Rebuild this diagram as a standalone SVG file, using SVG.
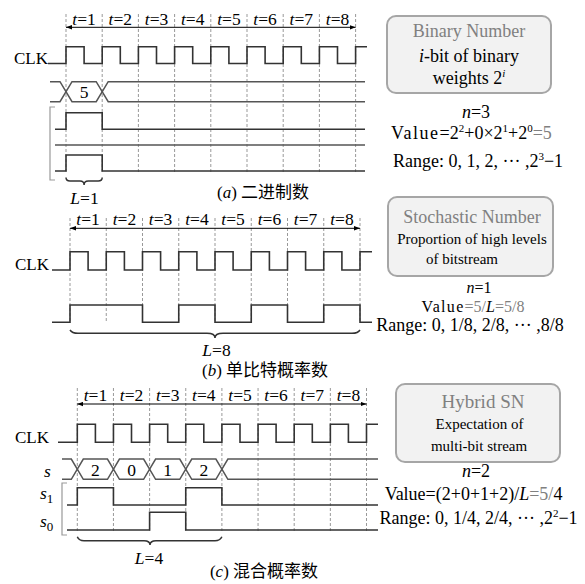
<svg xmlns="http://www.w3.org/2000/svg" width="585" height="584" viewBox="0 0 585 584">
<defs>
<style>
text{font-family:"Liberation Serif","Noto Sans CJK SC",serif;fill:#000}
.t{font-size:17.5px}
.clk{font-size:17px}
.wave{fill:none;stroke:#333;stroke-width:1.6}
.bus{fill:none;stroke:#555;stroke-width:1.5}
.dash{stroke:#999;stroke-width:1;stroke-dasharray:3 2}
.arr{stroke:#000;stroke-width:1}
.brace{fill:none;stroke:#333;stroke-width:1.5}
.brk{fill:none;stroke:#999;stroke-width:1.2}
.box{fill:#f2f2f2;stroke:#a6a6a6;stroke-width:2}
.title{font-size:18px;fill:#808080}
.bt{font-size:18px}
.bs{font-size:15px}
.info{font-size:18px}
.infob{font-size:16px}
.cap{font-size:17px}
.gray{fill:#808080}
.i{font-style:italic}
</style>
<marker id="ah" viewBox="0 0 8 6" refX="8" refY="3" markerWidth="6" markerHeight="5" orient="auto-start-reverse" markerUnits="userSpaceOnUse">
<path d="M0,0 L8,3 L0,6 z" fill="#000"/>
</marker>
</defs>
<rect width="585" height="584" fill="#fff"/>

<!-- ===== (a) Binary ===== -->
<g id="a-grid">
<g class="dash">
<line x1="66" y1="14" x2="66" y2="173"/><line x1="102.2" y1="14" x2="102.2" y2="173"/><line x1="138.4" y1="14" x2="138.4" y2="173"/><line x1="174.6" y1="14" x2="174.6" y2="173"/><line x1="210.8" y1="14" x2="210.8" y2="173"/><line x1="247" y1="14" x2="247" y2="173"/><line x1="283.2" y1="14" x2="283.2" y2="173"/><line x1="319.4" y1="14" x2="319.4" y2="173"/><line x1="355.6" y1="14" x2="355.6" y2="173"/>
</g>
<line class="arr" x1="66" y1="27.3" x2="355.6" y2="27.3" marker-start="url(#ah)" marker-end="url(#ah)"/>
<g class="t" text-anchor="middle">
<text x="84.1" y="25"><tspan class="i">t</tspan>=1</text><text x="120.3" y="25"><tspan class="i">t</tspan>=2</text><text x="156.5" y="25"><tspan class="i">t</tspan>=3</text><text x="192.7" y="25"><tspan class="i">t</tspan>=4</text><text x="228.9" y="25"><tspan class="i">t</tspan>=5</text><text x="265.1" y="25"><tspan class="i">t</tspan>=6</text><text x="301.3" y="25"><tspan class="i">t</tspan>=7</text><text x="337.5" y="25"><tspan class="i">t</tspan>=8</text>
</g>
</g>
<g id="a-clk">
<text class="clk" x="14" y="64">CLK</text>
<path class="wave" d="M48,63.5 H66 V46.7 H84.1 V63.5 H102.2 V46.7 H120.3 V63.5 H138.4 V46.7 H156.5 V63.5 H174.6 V46.7 H192.7 V63.5 H210.8 V46.7 H228.9 V63.5 H247 V46.7 H265.1 V63.5 H283.2 V46.7 H301.3 V63.5 H319.4 V46.7 H337.5 V63.5 H355.6 V46.7 H367"/>
</g>
<g id="a-bus">
<path class="bus" d="M50,81.7 H60 L72,101.7 H96.2 L108.2,81.7 H365"/>
<path class="bus" d="M50,101.7 H60 L72,81.7 H96.2 L108.2,101.7 H365"/>
<text class="t" x="84.1" y="98" text-anchor="middle">5</text>
</g>
<g id="a-bits">
<path class="brk" d="M55,107 H50 V180 H55"/>
<path class="wave" d="M55,129.3 H66 V112.7 H102.2 V129.3 H365"/>
<path class="bus" d="M55,145 H365"/>
<path class="wave" d="M55,171 H66 V155 H102.2 V171 H365"/>
<path class="brace" d="M66,177.5 Q66,181 70,181 H80 Q84.1,181 84.1,185 Q84.1,181 88.2,181 H98.2 Q102.2,181 102.2,177.5"/>
<text class="t" x="84.5" y="204" text-anchor="middle"><tspan class="i">L</tspan>=1</text>
<text class="cap" x="263" y="198" text-anchor="middle">(<tspan class="i">a</tspan>) 二进制数</text>
</g>
<g id="a-info">
<rect class="box" x="387" y="16" width="164" height="77" rx="9"/>
<text class="title" x="469" y="37" text-anchor="middle">Binary Number</text>
<text class="bt" x="469" y="62" text-anchor="middle"><tspan class="i">i</tspan>-bit of binary</text>
<text class="bt" x="469" y="84" text-anchor="middle">weights 2<tspan class="i" font-size="11" dy="-7">i</tspan></text>
<text class="info" x="476" y="118" text-anchor="middle"><tspan class="i">n</tspan>=3</text>
<text class="info" x="471.5" y="139" text-anchor="middle"><tspan letter-spacing="1.5">Value</tspan>=2<tspan font-size="11" dy="-7">2</tspan><tspan dy="7">+0×2</tspan><tspan font-size="11" dy="-7">1</tspan><tspan dy="7">+2</tspan><tspan font-size="11" dy="-7">0</tspan><tspan dy="7" class="gray">=5</tspan></text>
<text class="info" x="478" y="167" text-anchor="middle">Range: 0, 1, 2, ··· ,2<tspan font-size="11" dy="-7">3</tspan><tspan dy="7">−1</tspan></text>
</g>

<!-- ===== (b) Stochastic ===== -->
<g id="b-grid">
<g class="dash">
<line x1="70" y1="218" x2="70" y2="323"/><line x1="106.25" y1="218" x2="106.25" y2="323"/><line x1="142.5" y1="218" x2="142.5" y2="323"/><line x1="178.75" y1="218" x2="178.75" y2="323"/><line x1="215" y1="218" x2="215" y2="323"/><line x1="251.25" y1="218" x2="251.25" y2="323"/><line x1="287.5" y1="218" x2="287.5" y2="323"/><line x1="323.75" y1="218" x2="323.75" y2="323"/><line x1="360" y1="218" x2="360" y2="323"/>
</g>
<line class="arr" x1="70" y1="228.3" x2="360" y2="228.3" marker-start="url(#ah)" marker-end="url(#ah)"/>
<g class="t" text-anchor="middle">
<text x="88.1" y="225"><tspan class="i">t</tspan>=1</text><text x="124.4" y="225"><tspan class="i">t</tspan>=2</text><text x="160.6" y="225"><tspan class="i">t</tspan>=3</text><text x="196.9" y="225"><tspan class="i">t</tspan>=4</text><text x="233.1" y="225"><tspan class="i">t</tspan>=5</text><text x="269.4" y="225"><tspan class="i">t</tspan>=6</text><text x="305.6" y="225"><tspan class="i">t</tspan>=7</text><text x="341.9" y="225"><tspan class="i">t</tspan>=8</text>
</g>
</g>
<g id="b-clk">
<text class="clk" x="15" y="270">CLK</text>
<path class="wave" d="M52,270 H70 V251.7 H88.1 V270 H106.25 V251.7 H124.4 V270 H142.5 V251.7 H160.6 V270 H178.75 V251.7 H196.9 V270 H215 V251.7 H233.1 V270 H251.25 V251.7 H269.4 V270 H287.5 V251.7 H305.6 V270 H323.75 V251.7 H341.9 V270 H360 V251.7 H372"/>
</g>
<g id="b-stream">
<path class="wave" d="M52,322.3 H70 V305 H142.5 V322.3 H178.75 V305 H215 V322.3 H251.25 V305 H287.5 V322.3 H323.75 V305 H360 V322.3 H372"/>
<path class="brace" d="M70,330 Q72,333.3 78,333.3 H207 Q215,333.3 215,338 Q215,333.3 223,333.3 H352 Q358,333.3 360,330"/>
<text class="t" x="216.5" y="356" text-anchor="middle"><tspan class="i">L</tspan>=8</text>
<text class="cap" x="265" y="376" text-anchor="middle">(<tspan class="i">b</tspan>) 单比特概率数</text>
</g>
<g id="b-info">
<rect class="box" x="388" y="197" width="165" height="79" rx="9"/>
<text class="title" x="472" y="223" text-anchor="middle">Stochastic Number</text>
<text class="bs" x="472" y="244" text-anchor="middle">Proportion of high levels</text>
<text class="bs" x="462" y="264" text-anchor="middle">of bitstream</text>
<text class="infob" x="479" y="293" text-anchor="middle"><tspan class="i">n</tspan>=1</text>
<text class="infob" x="473" y="311.5" text-anchor="middle"><tspan letter-spacing="1.3">Value</tspan><tspan class="gray">=5/</tspan><tspan class="i">L</tspan><tspan class="gray">=5/8</tspan></text>
<text x="470" y="331" text-anchor="middle" style="font-size:18px">Range: 0, 1/8, 2/8, ··· ,8/8</text>
</g>

<!-- ===== (c) Hybrid ===== -->
<g id="c-grid">
<g class="dash">
<line x1="77.3" y1="388" x2="77.3" y2="533"/><line x1="113.45" y1="388" x2="113.45" y2="533"/><line x1="149.6" y1="388" x2="149.6" y2="533"/><line x1="185.75" y1="388" x2="185.75" y2="533"/><line x1="221.9" y1="388" x2="221.9" y2="533"/><line x1="258.05" y1="388" x2="258.05" y2="533"/><line x1="294.2" y1="388" x2="294.2" y2="533"/><line x1="330.35" y1="388" x2="330.35" y2="533"/><line x1="366.5" y1="388" x2="366.5" y2="533"/>
</g>
<line class="arr" x1="77.3" y1="404" x2="366.5" y2="404" marker-start="url(#ah)" marker-end="url(#ah)"/>
<g class="t" text-anchor="middle">
<text x="95.4" y="400.5"><tspan class="i">t</tspan>=1</text><text x="131.5" y="400.5"><tspan class="i">t</tspan>=2</text><text x="167.7" y="400.5"><tspan class="i">t</tspan>=3</text><text x="203.8" y="400.5"><tspan class="i">t</tspan>=4</text><text x="240" y="400.5"><tspan class="i">t</tspan>=5</text><text x="276.1" y="400.5"><tspan class="i">t</tspan>=6</text><text x="312.3" y="400.5"><tspan class="i">t</tspan>=7</text><text x="348.4" y="400.5"><tspan class="i">t</tspan>=8</text>
</g>
</g>
<g id="c-clk">
<text class="clk" x="15" y="443">CLK</text>
<path class="wave" d="M58,442.3 H77.3 V424.3 H95.4 V442.3 H113.45 V424.3 H131.5 V442.3 H149.6 V424.3 H167.7 V442.3 H185.75 V424.3 H203.8 V442.3 H221.9 V424.3 H240 V442.3 H258.05 V424.3 H276.1 V442.3 H294.2 V424.3 H312.3 V442.3 H330.35 V424.3 H348.4 V442.3 H366.5 V424.3 H378"/>
</g>
<g id="c-bus">
<text class="t i" x="44" y="477">s</text>
<path class="bus" d="M62,459 H71.3 L83.3,479.3 H107.45 L119.45,459 H143.6 L155.6,479.3 H179.75 L191.75,459 H215.9 L227.9,479.3 H378"/>
<path class="bus" d="M62,479.3 H71.3 L83.3,459 H107.45 L119.45,479.3 H143.6 L155.6,459 H179.75 L191.75,479.3 H215.9 L227.9,459 H378"/>
<g class="t" text-anchor="middle">
<text x="95.4" y="475.5">2</text><text x="131.5" y="475.5">0</text><text x="167.7" y="475.5">1</text><text x="203.8" y="475.5">2</text>
</g>
</g>
<g id="c-bits">
<text class="t" x="40" y="499"><tspan class="i">s</tspan><tspan font-size="13" dy="4">1</tspan></text>
<text class="t" x="40" y="527"><tspan class="i">s</tspan><tspan font-size="13" dy="4">0</tspan></text>
<path class="brk" d="M67,483 H62 V535 H67"/>
<path class="wave" d="M67,505 H77.3 V487.7 H113.45 V505 H185.75 V487.7 H221.9 V505 H378"/>
<path class="wave" d="M67,530 H149.6 V512.3 H185.75 V530 H378"/>
<path class="brace" d="M77.3,536.7 Q79,540.7 84,540.7 H144 Q150,540.7 150,545 Q150,540.7 156,540.7 H215 Q220,540.7 221.9,536.7"/>
<text class="t" x="149" y="564" text-anchor="middle"><tspan class="i">L</tspan>=4</text>
<text class="cap" x="264" y="577" text-anchor="middle">(<tspan class="i">c</tspan>) 混合概率数</text>
</g>
<g id="c-info">
<rect class="box" x="396" y="384" width="164" height="78" rx="9"/>
<text class="title" x="483" y="408" text-anchor="middle" style="font-size:19px">Hybrid SN</text>
<text class="bs" x="479.5" y="429" text-anchor="middle">Expectation of</text>
<text class="bs" x="479" y="451" text-anchor="middle">multi-bit stream</text>
<text class="info" x="476" y="477" text-anchor="middle"><tspan class="i">n</tspan>=2</text>
<text class="info" x="473.5" y="500" text-anchor="middle">Value=(2+0+1+2)/<tspan class="i">L</tspan><tspan class="gray">=5/</tspan>4</text>
<text class="info" x="478.5" y="524" text-anchor="middle">Range: 0, 1/4, 2/4, ··· ,2<tspan font-size="11" dy="-7">2</tspan><tspan dy="7">−1</tspan></text>
</g>
</svg>
